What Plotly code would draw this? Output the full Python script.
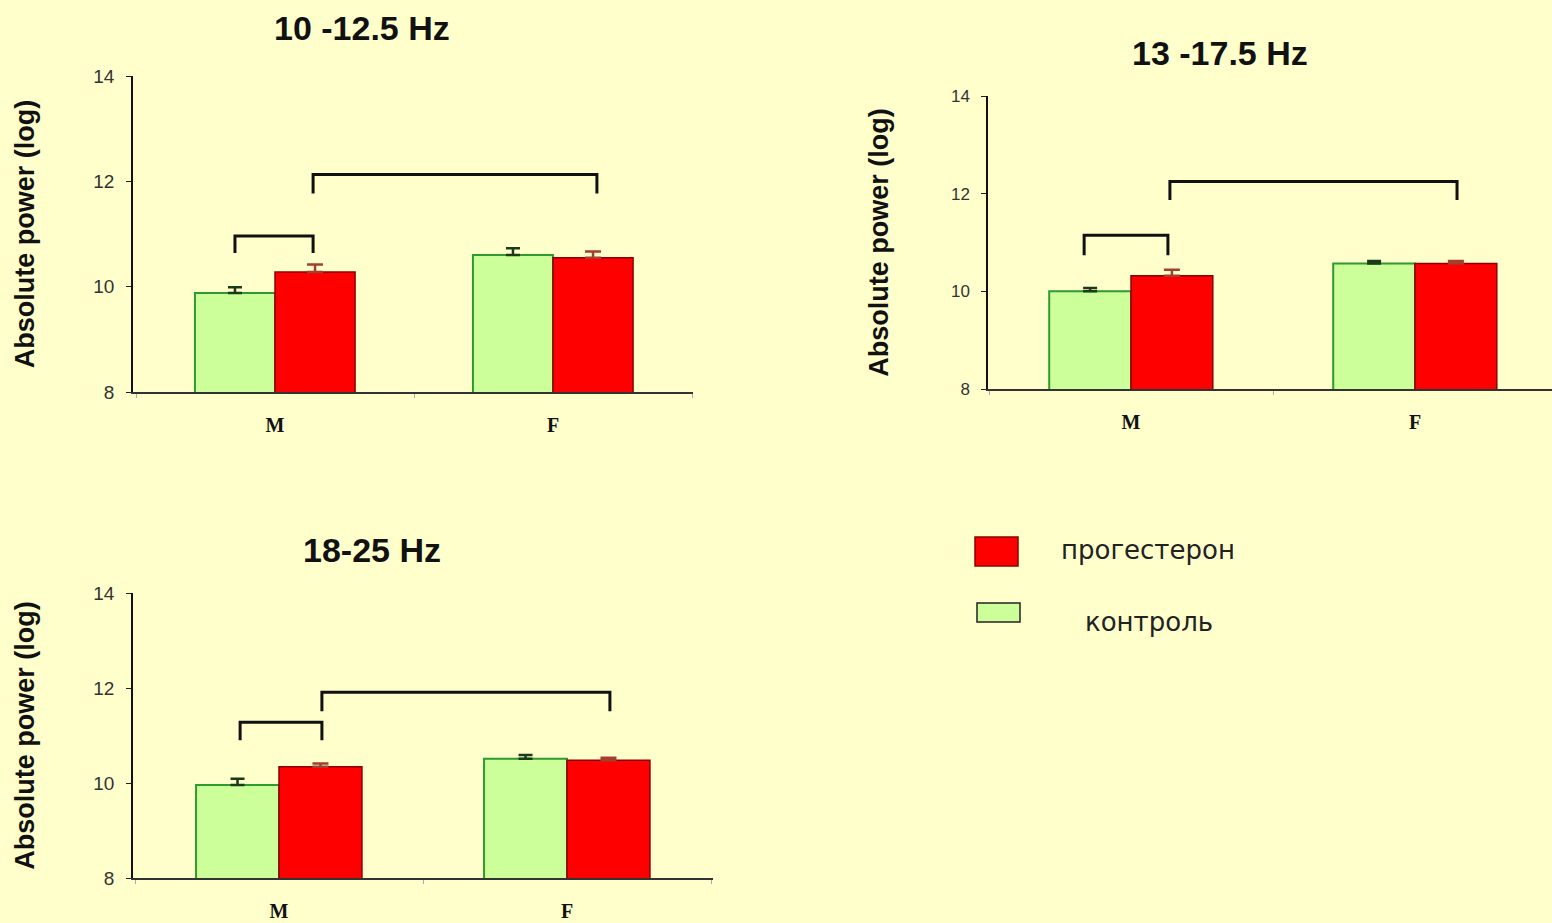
import plotly.graph_objects as go

# ---------------- data ----------------
categories = ["M", "F"]
series_names = ["прогестерон", "контроль"]
panel_titles = ["10 -12.5 Hz", "13 -17.5 Hz", "18-25 Hz"]
y_title = "Absolute power (log)"
y_ticks = [8, 10, 12, 14]

control_vals = [[9.88, 10.60], [10.00, 10.57], [9.96, 10.51]]
control_err = [[0.11, 0.13], [0.07, 0.05], [0.13, 0.08]]
prog_vals = [[10.28, 10.55], [10.32, 10.57], [10.34, 10.48]]
prog_err = [[0.14, 0.12], [0.12, 0.05], [0.07, 0.05]]

# significance brackets per panel: (x0, x1, y_top, y_leg_bottom)
brackets = [
    [(-0.144, 0.137, 10.96, 10.64), (0.137, 1.158, 12.13, 11.77)],
    [(-0.165, 0.130, 11.15, 10.74), (0.137, 1.148, 12.25, 11.87)],
    [(-0.135, 0.149, 11.28, 10.90), (0.149, 1.149, 11.91, 11.51)],
]

# ---------------- layout geometry (pixels) ----------------
W, H = 1552, 923
BG = "#FFFFCC"
GREEN_FILL = "#CCFF99"
GREEN_LINE = "#2F9A2F"
RED_FILL = "#FF0000"
RED_LINE = "#8B0000"
BAR_W = 0.288

# (x_left, x_right, y_top(14), y_bottom(8), M_center_px, spacing_px)
panels = [
    (133, 693, 76, 392, 275, 278),
    (988, 1552, 96, 389, 1131, 284),
    (133, 713, 593, 878, 279, 288),
]
title_pos = [(362, 28), (1220, 53), (372, 550)]
tick_font_sizes = [19, 17, 19]
ytitle_standoff = [51, 54, 51]

fig = go.Figure()
shapes = []
annotations = []

for i in range(3):
    xl, xr, yt, yb, mc, sp = panels[i]
    xa = "x" if i == 0 else f"x{i+1}"
    ya = "y" if i == 0 else f"y{i+1}"
    fig.add_trace(go.Bar(
        x=[0, 1], y=control_vals[i], name=series_names[1],
        width=BAR_W, offset=-BAR_W,
        marker=dict(color=GREEN_FILL, line=dict(color=GREEN_LINE, width=2)),
        error_y=dict(type="data", symmetric=False, array=control_err[i],
                     arrayminus=[0, 0], color="#1A3A1A", thickness=2.5, width=7),
        xaxis=xa, yaxis=ya, showlegend=False,
    ))
    fig.add_trace(go.Bar(
        x=[0, 1], y=prog_vals[i], name=series_names[0],
        width=BAR_W, offset=0,
        marker=dict(color=RED_FILL, line=dict(color=RED_LINE, width=1.5)),
        error_y=dict(type="data", symmetric=False, array=prog_err[i],
                     arrayminus=[0, 0], color="#A04030", thickness=2.5, width=8),
        xaxis=xa, yaxis=ya, showlegend=False,
    ))

    xrange = [(xl - mc) / sp, (xr - mc) / sp]
    xkey = "xaxis" if i == 0 else f"xaxis{i+1}"
    ykey = "yaxis" if i == 0 else f"yaxis{i+1}"
    fig.update_layout(**{
        xkey: dict(
            domain=[xl / W, xr / W], range=xrange, anchor=ya,
            automargin=False,
            showline=True, linecolor="#333333", linewidth=2,
            showgrid=False, zeroline=False,
            tickvals=[0, 1], ticktext=categories, ticks="",
            ticklabelstandoff=14,
            tickfont=dict(family="Liberation Serif", size=20, color="#111111", weight="bold"),
            minor=dict(tickvals=[-0.5, 0.5, 1.5], ticks="outside", ticklen=4,
                       tickcolor="#AAAAAA", tickwidth=1),
            fixedrange=True,
        ),
        ykey: dict(
            domain=[(H - yb) / H, (H - yt) / H], range=[8, 14], anchor=xa,
            automargin=False,
            showline=True, linecolor="#111111", linewidth=1.5,
            showgrid=False, zeroline=False,
            tickvals=y_ticks, ticks="outside", ticklen=5, tickcolor="#222222",
            ticklabelstandoff=8,
            tickfont=dict(family="Liberation Sans", size=tick_font_sizes[i], color="#333333"),
            title=dict(text=y_title, standoff=ytitle_standoff[i],
                       font=dict(family="Liberation Sans", size=27, color="#111111", weight="bold")),
            fixedrange=True,
        ),
    })

    for (x0, x1, ytop, ybot) in brackets[i]:
        shapes.append(dict(
            type="path", xref=xa, yref=ya,
            path=f"M {x0},{ybot} L {x0},{ytop} L {x1},{ytop} L {x1},{ybot}",
            line=dict(color="#111111", width=3),
        ))

    tx, ty = title_pos[i]
    annotations.append(dict(
        text=panel_titles[i], xref="paper", yref="paper",
        x=tx / W, y=(H - ty) / H, xanchor="center", yanchor="middle",
        showarrow=False,
        font=dict(family="Liberation Sans", size=34, color="#111111", weight="bold"),
    ))

# legend (drawn in paper space)
legend_items = [
    (series_names[0], RED_FILL, RED_LINE, (975, 537, 1018, 566), (1148, 550)),
    (series_names[1], GREEN_FILL, "#222222", (977, 603, 1020, 622), (1149, 622)),
]
for name, fill, line, (x0, y0, x1, y1), (lx, ly) in legend_items:
    shapes.append(dict(
        type="rect", xref="paper", yref="paper",
        x0=x0 / W, x1=x1 / W, y0=(H - y1) / H, y1=(H - y0) / H,
        fillcolor=fill, line=dict(color=line, width=1.5),
    ))
    annotations.append(dict(
        text=name, xref="paper", yref="paper",
        x=lx / W, y=(H - ly) / H, xanchor="center", yanchor="middle",
        showarrow=False,
        font=dict(family="DejaVu Sans", size=26, color="#222222"),
    ))

fig.update_layout(
    width=W, height=H,
    margin=dict(l=0, r=0, t=0, b=0, pad=0, autoexpand=False),
    paper_bgcolor=BG, plot_bgcolor=BG,
    showlegend=False,
    shapes=shapes, annotations=annotations,
    barmode="overlay",
)

fig.write_html(
    "out.html",
    config={"displayModeBar": False, "responsive": False},
    post_script=(
        "document.documentElement.style.margin='0';"
        "document.documentElement.style.padding='0';"
        "document.body.style.margin='0';"
        "document.body.style.padding='0';"
        "document.body.style.overflow='hidden';"
    ),
)
